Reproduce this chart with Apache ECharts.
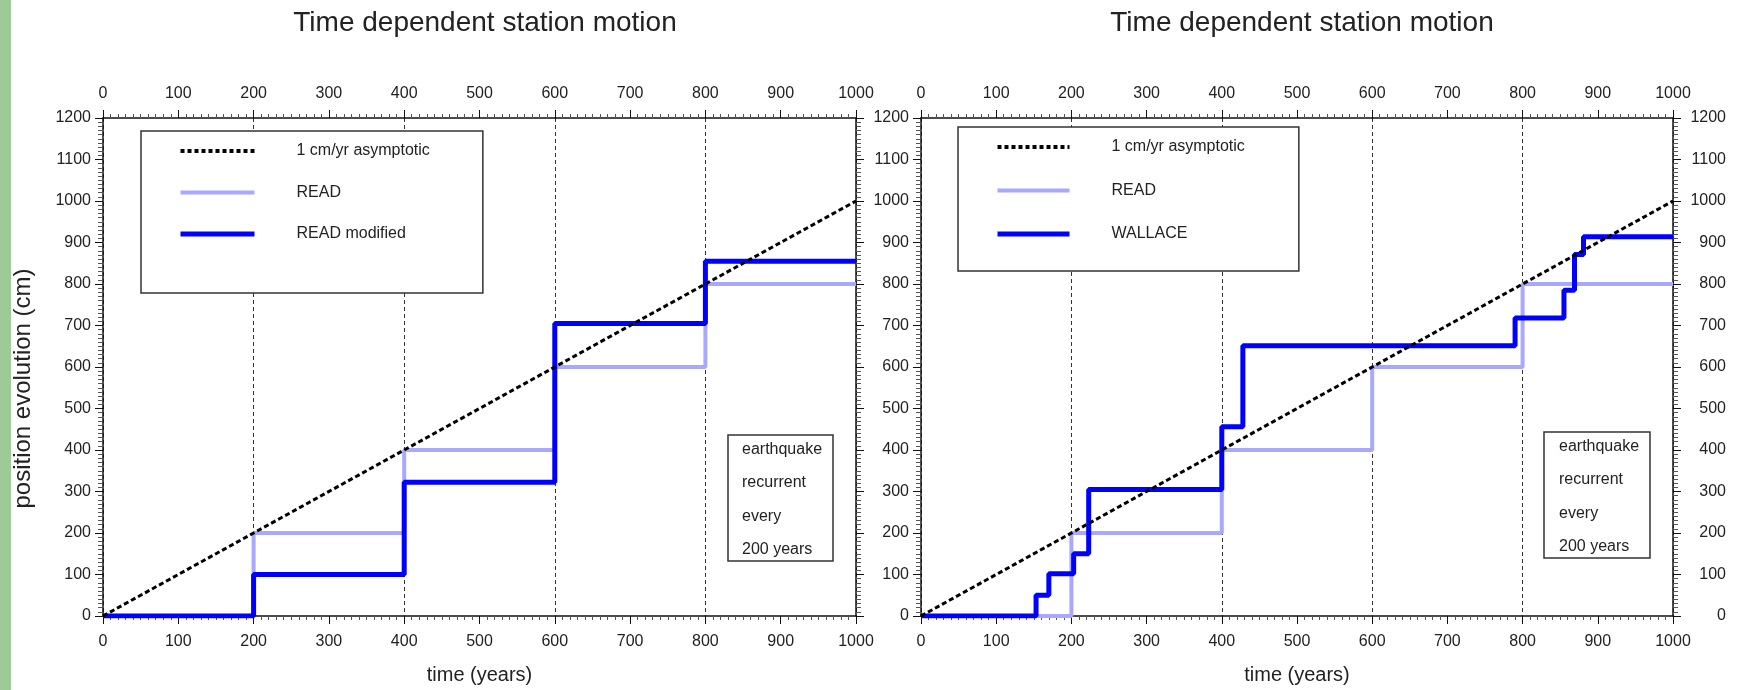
<!DOCTYPE html>
<html>
<head>
<meta charset="utf-8">
<script src="https://cdn.jsdelivr.net/npm/echarts@6/dist/echarts.min.js"></script>
<style>
  html, body { margin: 0; padding: 0; background: #ffffff; }
  #chart { width: 1742px; height: 690px; }
</style>
</head>
<body>
<div id="chart"></div>
<script>
// ---- data ----
const titleText = 'Time dependent station motion';
const xAxisName = 'time (years)';
const yAxisName = 'position evolution (cm)';
const noteText = ['earthquake', 'recurrent', 'every', '200 years'];

const legendLeft = ['1 cm/yr asymptotic', 'READ', 'READ modified'];
const legendRight = ['1 cm/yr asymptotic', 'READ', 'WALLACE'];

// 1 cm/yr asymptotic line
const asymTime = [0, 1000];
const asymPos = [0, 1000];

// READ (both panels)
const readTime = [0, 200, 400, 600, 800, 1000];
const readPos = [0, 200, 400, 600, 800, 800];

// READ modified (left panel)
const readModTime = [0, 200, 400, 600, 800, 1000];
const readModPos = [0, 100, 322, 705, 855, 855];

// WALLACE (right panel)
const wallaceTime = [0, 153, 170, 203, 223, 400, 428, 790, 855, 869, 881, 1000];
const wallacePos = [0, 50, 102, 150, 305, 456, 651, 718, 785, 871, 914, 914];

// dashed reference years (every 200 years)
const gridStep = 200;

const xMin = 0, xMax = 1000, xStep = 100;
const yMin = 0, yMax = 1200, yStep = 100;

// ---- build ----
const zip = (a, b) => a.map((v, i) => [v, b[i]]);
const FONT = "'Liberation Sans', Arial, Helvetica, sans-serif";
const TXT = '#222';
const plain = v => String(v);

const grids = [
  { left: 103, top: 118, width: 753, height: 500 },
  { left: 921, top: 118, width: 752, height: 499 }
];

function xAxes(g) {
  const common = {
    type: 'value', gridIndex: g, min: xMin, max: xMax, interval: xStep,
    axisLine: { show: true, onZero: false, lineStyle: { color: '#111', width: 1.5 } },
    axisTick: { show: true, inside: false, length: 8, lineStyle: { color: '#111', width: 1 } },
    minorTick: { show: true, splitNumber: 10, length: 4, lineStyle: { color: '#555', width: 1 } },
    axisLabel: { fontSize: 16, color: TXT, fontFamily: FONT, margin: 16, formatter: plain },
    splitLine: { show: false }
  };
  return [
    Object.assign({}, common, {
      position: 'bottom', name: xAxisName, nameLocation: 'middle', nameGap: 49,
      nameTextStyle: { fontSize: 20, color: TXT, fontFamily: FONT },
      axisLabel: Object.assign({}, common.axisLabel, { margin: 18 })
    }),
    Object.assign({}, common, { position: 'top' }),
    {
      type: 'value', gridIndex: g, min: xMin, max: xMax, interval: gridStep, position: 'bottom',
      axisLine: { show: false, onZero: false }, axisTick: { show: false }, axisLabel: { show: false },
      splitLine: { show: true, lineStyle: { color: '#333', width: 1, type: [4, 3] } }
    }
  ];
}

function yAxes(g) {
  const common = {
    type: 'value', gridIndex: g, min: yMin, max: yMax, interval: yStep,
    axisLine: { show: true, onZero: false, lineStyle: { color: '#111', width: 1.5 } },
    axisTick: { show: true, inside: false, length: 8, lineStyle: { color: '#111', width: 1 } },
    minorTick: { show: true, splitNumber: 10, length: 5, lineStyle: { color: '#555', width: 1 } },
    splitLine: { show: false }
  };
  const left = Object.assign({}, common, {
    position: 'left',
    axisLabel: { fontSize: 16, color: TXT, fontFamily: FONT, margin: 12, formatter: plain }
  });
  if (g === 0) {
    Object.assign(left, {
      name: yAxisName, nameLocation: 'middle', nameGap: 68,
      nameTextStyle: { fontSize: 24, color: TXT, fontFamily: FONT, padding: [0, 43, 0, 0] }
    });
  }
  const right = Object.assign({}, common, {
    position: 'right',
    axisLabel: g === 0 ? { show: false } :
      { show: true, fontSize: 16, color: TXT, fontFamily: FONT, margin: 53, align: 'right', formatter: plain }
  });
  return [left, right];
}

const xAxis = [...xAxes(0), ...xAxes(1)];
const yAxis = [...yAxes(0), ...yAxes(1)];

const asymStyle = { color: '#000', width: 3, type: [5, 3] };
const readStyle = { color: '#a8a8ff', width: 4 };
const blueStyle = { color: '#0000ff', width: 5 };
const styleByName = {
  '1 cm/yr asymptotic': { color: '#000', width: 4, type: [4, 3] },
  'READ': readStyle,
  'READ modified': blueStyle,
  'WALLACE': blueStyle
};

function lineSeries(name, g, data, style, z, step) {
  return {
    type: 'line', name, xAxisIndex: g * 3, yAxisIndex: g * 2, data,
    step: step ? 'end' : false, symbol: 'none', showSymbol: false, z,
    lineStyle: style, itemStyle: { color: style.color }
  };
}

const series = [
  lineSeries('READ', 0, zip(readTime, readPos), readStyle, 2, true),
  lineSeries('READ modified', 0, zip(readModTime, readModPos), blueStyle, 3, true),
  lineSeries('1 cm/yr asymptotic', 0, zip(asymTime, asymPos), asymStyle, 4, false),
  lineSeries('READ', 1, zip(readTime, readPos), readStyle, 2, true),
  lineSeries('WALLACE', 1, zip(wallaceTime, wallacePos), blueStyle, 3, true),
  lineSeries('1 cm/yr asymptotic', 1, zip(asymTime, asymPos), asymStyle, 4, false)
];

function legend(names, left, top, gap, padding, itemWidth) {
  return {
    data: names.map(n => ({ name: n, lineStyle: Object.assign({}, styleByName[n]), itemStyle: { opacity: 0 } })),
    left, top, orient: 'vertical', align: 'left',
    itemWidth, itemHeight: 14, itemGap: gap, padding,
    borderColor: '#333', borderWidth: 1.5, backgroundColor: '#fff',
    selectedMode: false,
    itemStyle: { opacity: 0 },
    textStyle: { fontSize: 16, color: TXT, fontFamily: FONT, padding: [0, 0, 0, 37] }
  };
}

function noteBox(x, y, w, h, tx, ty, lh) {
  return {
    type: 'group', children: [
      { type: 'rect', shape: { x, y, width: w, height: h },
        style: { fill: '#fff', stroke: '#333', lineWidth: 1.5 }, z: 10 },
      { type: 'text', x: tx, y: ty, z: 11,
        style: { text: noteText.join('\n'), fill: TXT, font: '16px ' + FONT, lineHeight: lh } }
    ]
  };
}

const option = {
  animation: false,
  backgroundColor: '#ffffff',
  title: [
    { text: titleText, left: 480, top: 4, textAlign: 'center',
      textStyle: { fontSize: 28, fontWeight: 'normal', color: TXT, fontFamily: FONT } },
    { text: titleText, left: 1297, top: 4, textAlign: 'center',
      textStyle: { fontSize: 28, fontWeight: 'normal', color: TXT, fontFamily: FONT } }
  ],
  grid: grids,
  xAxis, yAxis,
  legend: [
    legend(legendLeft, 141, 131, 25.5, [12, 53, 51, 37], 74),
    legend(legendRight, 958, 127, 27.5, [12, 54, 29, 37], 72)
  ],
  graphic: [
    { type: 'rect', shape: { x: 0, y: 0, width: 11, height: 690 }, style: { fill: '#9dca97' } },
    noteBox(728, 435, 105, 126, 742, 433, 33.3),
    noteBox(1544, 432, 106, 126, 1559, 430, 33.3)
  ],
  series
};

const chart = echarts.init(document.getElementById('chart'), null, { renderer: 'canvas' });
chart.setOption(option);
</script>
</body>
</html>
